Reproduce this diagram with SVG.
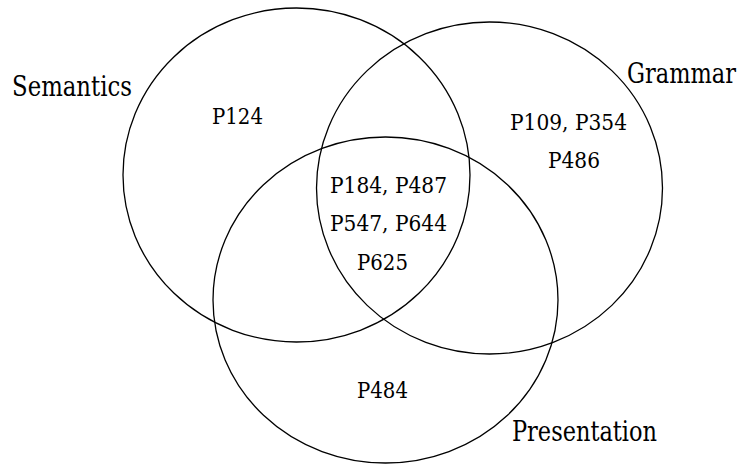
<svg xmlns="http://www.w3.org/2000/svg" width="741" height="466" viewBox="0 0 741 466">
<style>
.set{fill:none;stroke:#000;stroke-width:1.3}
text{fill:#000;font-family:"DejaVu Serif","Liberation Serif","Times New Roman",serif}
.lbl{font-size:27px}
.item{font-size:23px}
</style>
<rect width="741" height="466" fill="#fff"/>
<g id="semantics">
<ellipse class="set" cx="296.5" cy="175" rx="173.5" ry="167"/>
<text class="lbl" x="12" y="96" textLength="120" lengthAdjust="spacingAndGlyphs">Semantics</text>
<text class="item" x="212" y="124" textLength="51" lengthAdjust="spacingAndGlyphs">P124</text>
</g>
<g id="grammar">
<ellipse class="set" cx="489.5" cy="188" rx="173" ry="166"/>
<text class="lbl" x="627" y="83" textLength="109" lengthAdjust="spacingAndGlyphs">Grammar</text>
<text class="item" x="510" y="130" textLength="117" lengthAdjust="spacingAndGlyphs">P109, P354</text>
<text class="item" x="548" y="168" textLength="52" lengthAdjust="spacingAndGlyphs">P486</text>
</g>
<g id="presentation">
<ellipse class="set" cx="385.5" cy="300" rx="172.5" ry="163"/>
<text class="lbl" x="512" y="441" textLength="145" lengthAdjust="spacingAndGlyphs">Presentation</text>
<text class="item" x="357" y="398" textLength="51" lengthAdjust="spacingAndGlyphs">P484</text>
</g>
<g id="intersection">
<text class="item" x="330" y="193" textLength="117" lengthAdjust="spacingAndGlyphs">P184, P487</text>
<text class="item" x="330" y="231" textLength="117" lengthAdjust="spacingAndGlyphs">P547, P644</text>
<text class="item" x="357" y="270" textLength="51" lengthAdjust="spacingAndGlyphs">P625</text>
</g>
</svg>
